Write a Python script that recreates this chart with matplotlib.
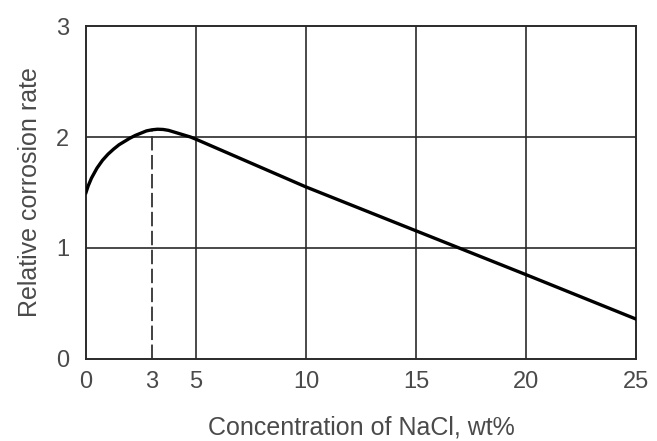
import numpy as np
import matplotlib
matplotlib.use("Agg")
import matplotlib.pyplot as plt

plt.rcParams['font.family'] = ['Liberation Sans', 'DejaVu Sans']

# Concentration of NaCl (wt%) vs relative corrosion rate
conc = [0, 0.1, 0.25, 0.5, 0.75, 1.0, 1.25, 1.5, 1.75, 2.0, 2.25, 2.5, 2.75, 3.0, 3.25, 3.5,
        3.75, 4.0, 4.25, 4.5, 4.75, 5.0, 10.0, 15.0, 20.0, 25.0]
rate = [1.50, 1.56, 1.63, 1.72, 1.79, 1.845, 1.89, 1.93, 1.96, 1.99, 2.015, 2.035, 2.055, 2.065, 2.07, 2.068,
        2.06, 2.045, 2.03, 2.015, 2.0, 1.98, 1.55, 1.155, 0.76, 0.36]
peak_x = 3
peak_y = 2.065
xticks = [0, 3, 5, 10, 15, 20, 25]
yticks = [0, 1, 2, 3]
grid_x = [5, 10, 15, 20]
grid_y = [1, 2]

fig = plt.figure(figsize=(6.57, 4.41), dpi=100)
ax = fig.add_axes([0.1309, 0.186, 0.837, 0.755])

# grid
for gx in grid_x:
    ax.axvline(gx, color='#2a2a2a', lw=1.2, zorder=1)
for gy in grid_y:
    ax.axhline(gy, color='#2a2a2a', lw=1.2, zorder=1)

ax.plot(conc, rate, color='black', lw=2.4, zorder=3, solid_joinstyle='round')
ax.plot([peak_x, peak_x], [0, peak_y], color='#333333', lw=1.3, ls=(0, (8, 2.5)), zorder=2)

ax.set_xlim(0, 25)
ax.set_ylim(0, 3)
ax.set_xticks(xticks)
ax.set_yticks(yticks)
ax.tick_params(length=0, labelsize=17, labelcolor='#4a4a4a')
ax.tick_params(axis='x', pad=9)
ax.tick_params(axis='y', pad=12)
for s in ax.spines.values():
    s.set_color('#2a2a2a')
    s.set_linewidth(1.4)

ax.set_xlabel("Concentration of NaCl, wt%", fontsize=18, color='#4a4a4a', labelpad=16)
ax.set_ylabel("Relative corrosion rate", fontsize=18, color='#4a4a4a', labelpad=10)

fig.savefig("out.png", dpi=100)
